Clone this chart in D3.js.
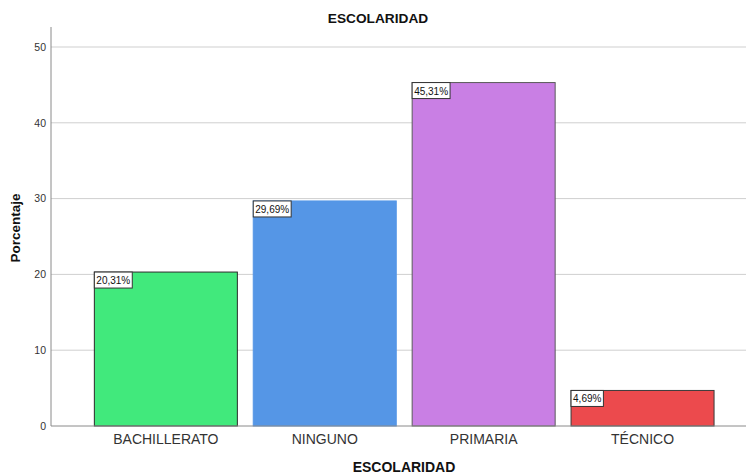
<!DOCTYPE html>
<html><head><meta charset="utf-8">
<script src="https://cdn.jsdelivr.net/npm/d3@7"></script>
<style>body{margin:0;background:#fff}svg{display:block;font-family:"Liberation Sans",Arial,sans-serif}</style>
</head><body>
<svg id="c" width="746" height="475"></svg>
<script>
const categories = ["BACHILLERATO", "NINGUNO", "PRIMARIA", "TÉCNICO"];
const values = [20.31, 29.69, 45.31, 4.69];
const valueLabels = ["20,31%", "29,69%", "45,31%", "4,69%"];
const yTicks = [0, 10, 20, 30, 40, 50];
const colors = ["#41e97c", "#5596e6", "#c97fe4", "#ec4a4d"];
const strokes = ["#2a2a2a", "#5596e6", "#5a5a5a", "#3a3a3a"];

const svg = d3.select("#c");
const x = d3.scaleBand().domain(categories).range([86.4, 722]).paddingInner(0.1).paddingOuter(0.05);
const y = d3.scaleLinear().domain([0, 52.64]).range([426, 27]);

// gridlines
svg.append("g").selectAll("line").data(yTicks.filter(d => d > 0)).join("line")
  .attr("x1", 51).attr("x2", 746).attr("y1", d => y(d)).attr("y2", d => y(d))
  .attr("stroke", "#cfcfcf").attr("stroke-width", 1);

// y axis
const ya = svg.append("g").attr("transform", "translate(51,0)")
  .call(d3.axisLeft(y).tickValues(yTicks).tickSize(0).tickPadding(5));
ya.select(".domain").remove();
ya.selectAll("text").attr("font-size", "10.5px").attr("fill", "#333").attr("font-family", "Liberation Sans, Arial, sans-serif");
svg.append("line").attr("x1", 51).attr("x2", 51).attr("y1", 27).attr("y2", 426).attr("stroke", "#8a8a8a");

// bars
svg.append("g").selectAll("rect").data(categories).join("rect")
  .attr("x", d => x(d)).attr("width", x.bandwidth())
  .attr("y", (d, i) => y(values[i])).attr("height", (d, i) => y(0) - y(values[i]))
  .attr("fill", (d, i) => colors[i]).attr("stroke", (d, i) => strokes[i]).attr("stroke-width", 1);

// x axis
svg.append("line").attr("x1", 51).attr("x2", 746).attr("y1", 426).attr("y2", 426).attr("stroke", "#8a8a8a");
const xa = svg.append("g").attr("transform", "translate(0,426)")
  .call(d3.axisBottom(x).tickSize(0).tickPadding(8));
xa.select(".domain").remove();
xa.selectAll("text").attr("font-size", "14px").attr("fill", "#333").attr("font-family", "Liberation Sans, Arial, sans-serif");

// value labels
const lg = svg.append("g");
categories.forEach((c, i) => {
  const g = lg.append("g").attr("transform", `translate(${x(c)},${y(values[i])})`);
  const rect = g.append("rect").attr("fill", "#fff").attr("stroke", "#333").attr("stroke-width", 1);
  const t = g.append("text").text(valueLabels[i]).attr("x", 2).attr("y", 12)
    .attr("font-size", "10px").attr("fill", "#111");
  const w = t.node().getComputedTextLength();
  rect.attr("x", 0).attr("y", 0).attr("width", w + 4).attr("height", 16);
});

// titles
svg.append("text").text("ESCOLARIDAD").attr("x", 378).attr("y", 23).attr("text-anchor", "middle")
  .attr("font-size", "13.7px").attr("font-weight", "bold").attr("fill", "#111");
svg.append("text").text("ESCOLARIDAD").attr("x", 404).attr("y", 472).attr("text-anchor", "middle")
  .attr("font-size", "14px").attr("font-weight", "bold").attr("fill", "#111");
svg.append("text").text("Porcentaje").attr("transform", "translate(20,228) rotate(-90)").attr("text-anchor", "middle")
  .attr("font-size", "13.5px").attr("font-weight", "bold").attr("fill", "#111");
</script>
</body></html>
